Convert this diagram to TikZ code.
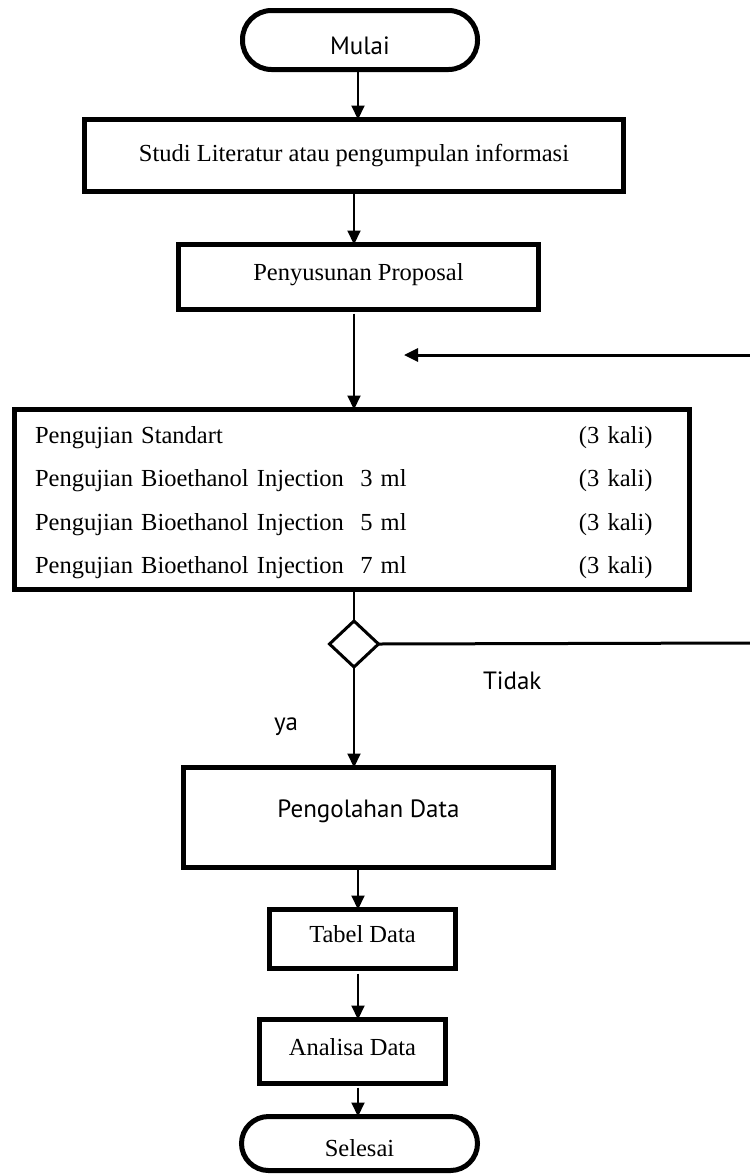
\documentclass[tikz,border=0pt]{standalone}
\usepackage{fontspec}
\setmainfont{Liberation Serif}
\newfontfamily\labelsans{PT Sans}
\usetikzlibrary{arrows.meta,shapes.geometric}
\begin{document}
\begin{tikzpicture}[x=1pt,y=-1pt,
  every node/.style={outer sep=0pt},
  frame/.style={draw=black, line width=5pt, rectangle, inner sep=0pt, fill=white},
  term/.style={frame, rounded corners=29pt},
  conn/.style={line width=2pt},
  arr/.style={conn, -{Triangle[width=13pt,length=14pt]}},
  serif/.style={font=\fontsize{24.5}{29}\selectfont},
  sans/.style={font=\labelsans\fontsize{25}{30}\selectfont},
  lbl/.style={sans, inner sep=0pt, anchor=base west},
]
\useasboundingbox (0,0) rectangle (750,1176);
\fill[white] (0,0) rectangle (750,1176);

% process steps
\node[term, sans, minimum width=235pt, text height=43.5pt, text depth=15.5pt] (mulai) at (360,40) {Mulai};
\node[frame, serif, minimum width=539pt, text height=41.5pt, text depth=30.5pt] (studi) at (354,155.5) {Studi Literatur atau pengumpulan informasi};
\node[frame, serif, minimum width=360pt, text height=35.5pt, text depth=29.5pt] (pen) at (358.5,277) {Penyusunan Proposal};
\node[frame, anchor=north west, inner xsep=20.5pt, text width=634pt, align=left,
      text height=33.5pt, text depth=146.5pt, font=\fontsize{24.5}{43.5}\selectfont] (test) at (14.5,409.5)
  {\makebox[544pt][l]{Pengujian Standart}(3 kali)\\
   \makebox[544pt][l]{Pengujian Bioethanol Injection~~3 ml}(3 kali)\\
   \makebox[544pt][l]{Pengujian Bioethanol Injection~~5 ml}(3 kali)\\
   \makebox[544pt][l]{Pengujian Bioethanol Injection~~7 ml}(3 kali)};
\node[draw, line width=3pt, diamond, minimum width=49pt, minimum height=46pt, inner sep=0pt, fill=white] (dia) at (354,644) {};
\node[frame, sans, minimum width=370pt, text height=49.5pt, text depth=50.5pt] (olah) at (368.5,817.5) {Pengolahan Data};
\node[frame, serif, minimum width=186pt, text height=32.5pt, text depth=26.5pt] (tabel) at (362.5,939) {Tabel Data};
\node[frame, serif, minimum width=186pt, text height=35.5pt, text depth=28.5pt] (analisa) at (352.5,1051.5) {Analisa Data};
\node[term, serif, rounded corners=27pt, minimum width=236pt, text height=39.5pt, text depth=14.5pt] (selesai) at (359.5,1143.5) {Selesai};

% decision labels
\node[lbl] (tidak) at (483,689) {Tidak};
\node[lbl] (ya) at (274,730) {ya};

% connectors
\coordinate (spine) at (358,0);
\coordinate (back1) at (750,643);
\coordinate (back2) at (750,355);
\coordinate (backend) at (404,355);
\draw[arr] (mulai.south -| spine) -- (studi.north -| spine);
\draw[arr] (studi.south -| dia) -- (pen.north -| dia);
\draw[arr, shorten <=4pt] (pen.south -| dia) -- (test.north -| dia);
\draw[conn] (test.south -| dia) -- (dia.north);
\draw[arr] (dia.south) -- (olah.north -| dia);
\draw[line width=3pt] (dia.east) -- (back1);
\draw[arr, line width=3pt] (back2) -- (backend);
\draw[arr] (olah.south -| spine) -- (tabel.north -| spine);
\draw[arr, shorten <=5pt] (tabel.south -| spine) -- (analisa.north -| spine);
\draw[arr, shorten <=4pt] (analisa.south -| spine) -- (selesai.north -| spine);
\end{tikzpicture}
\end{document}
